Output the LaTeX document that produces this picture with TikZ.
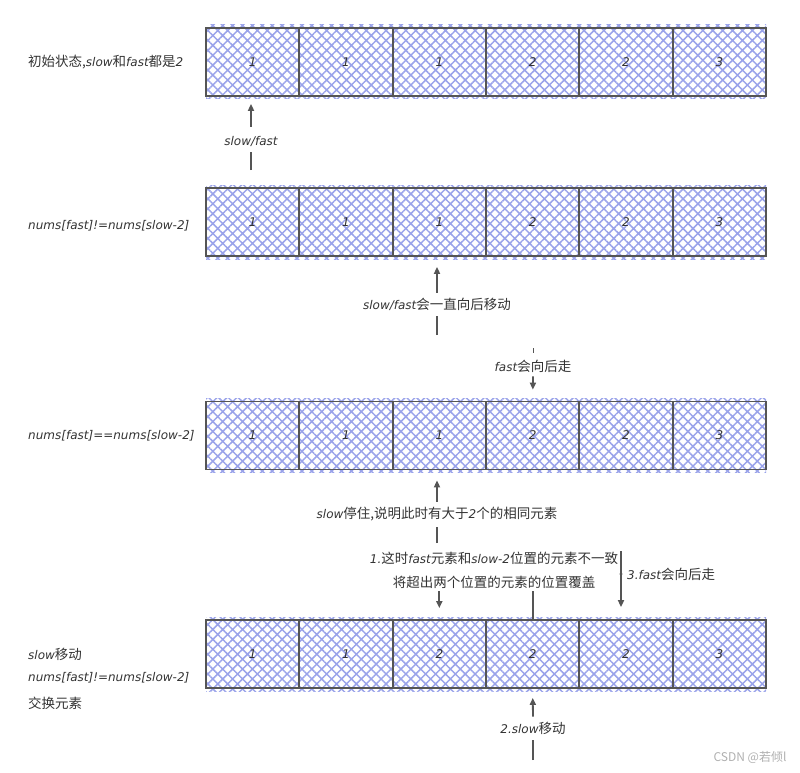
\documentclass[tikz,border=0pt]{standalone}
\usepackage{fontspec}
\setmainfont{Noto Sans CJK SC}
\newfontfamily\lat{DejaVu Sans}
\usetikzlibrary{patterns.meta,arrows.meta}
\definecolor{hb}{HTML}{9AA3EA}
\definecolor{bd}{HTML}{555555}
\definecolor{tx}{HTML}{333333}
\definecolor{wm}{HTML}{B0B0B0}
\newcommand\li[1]{{\lat\itshape\fontsize{12}{14}\selectfont #1}}
\tikzset{
  hatchrow/.style={pattern={Hatch[angle=45,distance=7pt,line width=1.5pt]},pattern color=hb},
  cellbox/.style={draw=bd,line width=1.8pt,minimum width=93.33pt,minimum height=68pt,inner sep=0pt,text=tx,font=\fontsize{12}{14}\selectfont\lat\itshape},
  lab/.style={text=tx,font=\fontsize{13.5}{15}\selectfont,inner sep=2pt},
  leftlab/.style={lab,anchor=west},
  conn/.style={draw=bd,line width=1.8pt},
  arr/.style={conn,-{Triangle[length=7pt,width=6pt]}},
}
\begin{document}
\begin{tikzpicture}[x=1pt,y=-1pt]
\useasboundingbox (0,0) rectangle (800,773);
% rows
\foreach \r/\y in {1/62,2/222,3/435.5}{
  \fill[hatchrow] (206,\y-37) rectangle (766,\y+37);
  \foreach \c/\v in {1/1,2/1,3/1,4/2,5/2,6/3}
    \node[cellbox] (c\r\c) at ({206+93.33*(\c-0.5)},\y) {\v};
}
\fill[hatchrow] (206,654-37) rectangle (766,654+37);
\foreach \c/\v in {1/1,2/1,3/2,4/2,5/2,6/3}
  \node[cellbox] (c4\c) at ({206+93.33*(\c-0.5)},654) {\v};

% left labels
\node[leftlab] (a1) at (26,62) {初始状态,\li{slow}和\li{fast}都是\li{2}};
\node[leftlab] (a2) at (26,226) {\li{nums[fast]!=nums[slow-2]}};
\node[leftlab] (a3) at (26,436) {\li{nums[fast]==nums[slow-2]}};
\node[leftlab] (a4) at (26,654) {\li{slow}移动};
\node[leftlab] (a5) at (26,678) {\li{nums[fast]!=nums[slow-2]}};
\node[leftlab] (a6) at (26,703) {交换元素};

% arrow 1
\node[lab] (L1) at (251,141) {\li{slow/fast}};
\coordinate (t1) at (251,170);
\draw[conn,shorten <=0pt,shorten >=4pt] (t1) -- (L1.south);
\draw[arr,shorten <=7pt,shorten >=7pt] (L1.north) -- (L1.north |- c11.south);

% arrow 2
\node[lab] (L2) at (437,304) {\li{slow/fast}会一直向后移动};
\coordinate (t2) at (437,335);
\draw[conn,shorten >=4pt] (t2) -- (L2.south);
\draw[arr,shorten <=3pt,shorten >=10pt] (L2.north) -- (L2.north |- c23.south);

% arrow 3
\node[lab] (L3) at (533,366) {\li{fast}会向后走};
\coordinate (t3) at (533,348);
\draw[conn,line width=1pt] (t3) -- ++(0,5);
\draw[arr,shorten <=2pt,shorten >=11pt] (L3.south) -- (c34.north);

% arrow 4
\node[lab] (L4) at (437,514) {\li{slow}停住,说明此时有大于\li{2}个的相同元素};
\coordinate (t4) at (437,543);
\draw[conn,shorten >=4pt] (t4) -- (L4.south);
\draw[arr,shorten <=3pt,shorten >=10pt] (L4.north) -- (L4.north |- c33.south);

% arrow 5 (two-line label)
\node[lab,align=center,font=\fontsize{13.5}{24}\selectfont] (L5) at (494,570)
  {\li{1.}这时\li{fast}元素和\li{slow-2}位置的元素不一致\\将超出两个位置的元素的位置覆盖};
\draw[arr,shorten <=1pt,shorten >=11pt] (L5.south -| c43) -- (c43.north);
\draw[conn,shorten <=1pt] (L5.south -| c44) -- (c44.north);

% arrow 6
\coordinate (t6) at (621,551);
\coordinate (d6) at (621,574);
\draw[arr,shorten >=12pt] (t6) -- (t6 |- c45.north);
\fill[bd] (d6) circle (1.6pt);
\node[lab,anchor=west] (L6) at (625,574) {\li{3.fast}会向后走};

% arrow 7
\node[lab] (L7) at (533,728) {\li{2.slow}移动};
\coordinate (t7) at (533,760);
\draw[conn,shorten >=4pt] (t7) -- (L7.south);
\draw[arr,shorten <=3pt,shorten >=9pt] (L7.north) -- (c44.south);

% watermark
\node[text=wm,font=\fontsize{12}{14}\selectfont,anchor=east] (wmk) at (790,757) {CSDN @若倾l};
\end{tikzpicture}
\end{document}
